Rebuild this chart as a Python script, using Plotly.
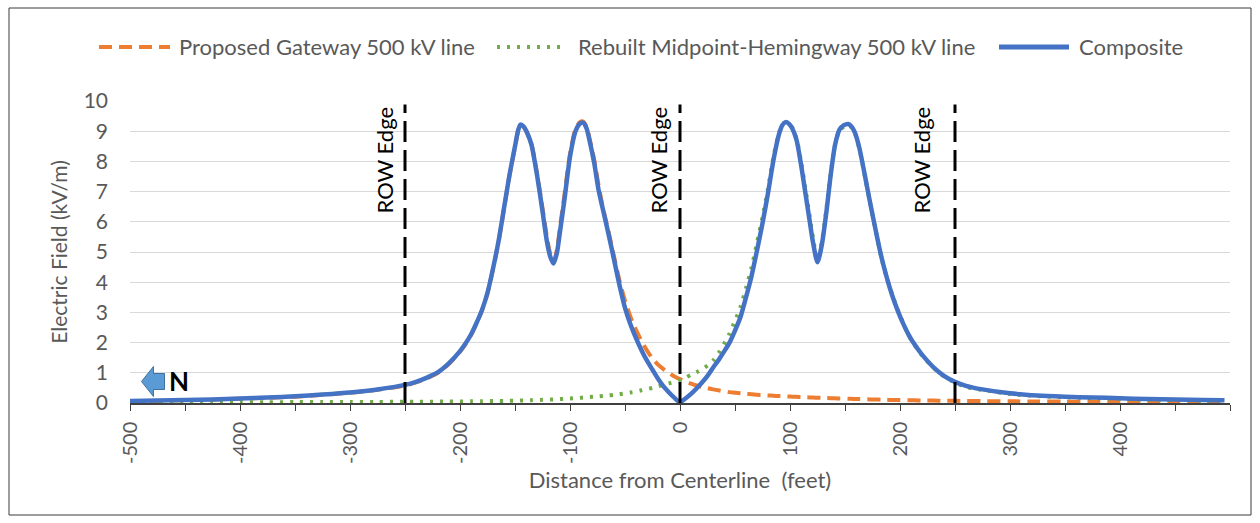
import plotly.graph_objects as go

# ---------------- data ----------------
distance_ft = [
    -500, -475, -450, -425, -400, -375, -350, -325, -300, -275, -250, -240, -230, -220, -210,
    -200, -195, -190, -185, -180, -175, -170, -165, -160, -155, -150, -147, -145, -142, -139,
    -135, -130, -125, -121, -118, -115, -112, -109, -105, -100, -95, -91, -88, -85, -82,
    -78, -74, -70, -65, -60, -55, -50, -45, -40, -35, -30, -25, -20, -15, -10, -5, 0,
    5, 10, 15, 20, 25, 30, 35, 40, 45, 50, 55, 60, 65, 70, 75, 80, 85, 90, 93, 96, 99,
    102, 106, 110, 114, 118, 121, 125, 129, 133, 137, 141, 145, 149, 153, 156, 159, 163,
    168, 173, 178, 183, 188, 193, 198, 203, 208, 213, 220, 230, 240, 250, 260, 275, 300,
    325, 350, 375, 400, 425, 450, 475, 495,
]

gateway_kvm = [
    0.06, 0.07, 0.09, 0.11, 0.14, 0.17, 0.21, 0.27, 0.34, 0.44, 0.58, 0.68, 0.82, 1.00, 1.30,
    1.70, 1.95, 2.25, 2.63, 3.06, 3.63, 4.43, 5.33, 6.43, 7.53, 8.48, 9.03, 9.20, 9.14, 8.95,
    8.57, 7.60, 6.45, 5.50, 4.95, 4.68, 5.05, 5.85, 6.90, 8.25, 9.07, 9.30, 9.32, 9.15, 8.72,
    8.05, 7.20, 6.45, 5.68, 4.85, 4.05, 3.38, 2.85, 2.42, 2.05, 1.74, 1.47, 1.27, 1.12, 0.99, 0.88, 0.79,
    0.71, 0.64, 0.58, 0.53, 0.49, 0.45, 0.42, 0.39, 0.36, 0.34, 0.32, 0.30, 0.29, 0.27, 0.26, 0.25, 0.24, 0.23, 0.225, 0.22, 0.215,
    0.21, 0.205, 0.20, 0.19, 0.185, 0.18, 0.175, 0.17, 0.165, 0.16, 0.155, 0.15, 0.145, 0.14, 0.137, 0.134, 0.13,
    0.125, 0.12, 0.115, 0.11, 0.105, 0.10, 0.097, 0.094, 0.091, 0.088, 0.085, 0.08, 0.076, 0.072, 0.068, 0.063, 0.056,
    0.05, 0.045, 0.04, 0.036, 0.033, 0.03, 0.027, 0.025,
]

midpoint_kvm = [
    0.02, 0.02, 0.02, 0.02, 0.025, 0.025, 0.03, 0.03, 0.035, 0.035, 0.04, 0.04, 0.045, 0.045, 0.05,
    0.05, 0.055, 0.055, 0.06, 0.06, 0.065, 0.065, 0.07, 0.07, 0.075, 0.08, 0.08, 0.085, 0.085, 0.09,
    0.095, 0.10, 0.105, 0.11, 0.115, 0.12, 0.125, 0.13, 0.14, 0.15, 0.16, 0.17, 0.18, 0.19, 0.20,
    0.21, 0.22, 0.23, 0.25, 0.27, 0.29, 0.32, 0.35, 0.38, 0.42, 0.46, 0.50, 0.55, 0.60, 0.65, 0.70, 0.76,
    0.84, 0.93, 1.02, 1.12, 1.24, 1.40, 1.65, 1.95, 2.30, 2.72, 3.18, 3.80, 4.48, 5.30, 6.15, 7.10, 8.15, 8.95, 9.22, 9.30, 9.26,
    9.12, 8.75, 8.00, 7.10, 6.15, 5.45, 4.75, 5.35, 6.40, 7.60, 8.55, 9.02, 9.15, 9.20, 9.12, 8.93, 8.43,
    7.53, 6.58, 5.68, 4.83, 4.13, 3.58, 3.08, 2.63, 2.23, 1.93, 1.58, 1.18, 0.88, 0.68, 0.53, 0.43, 0.30,
    0.23, 0.19, 0.16, 0.14, 0.11, 0.10, 0.08, 0.07,
]

composite_kvm = [
    0.07, 0.08, 0.10, 0.12, 0.15, 0.18, 0.22, 0.28, 0.35, 0.45, 0.60, 0.70, 0.84, 1.02, 1.32,
    1.72, 1.97, 2.27, 2.65, 3.08, 3.65, 4.45, 5.35, 6.45, 7.55, 8.50, 9.05, 9.22, 9.15, 8.95,
    8.55, 7.55, 6.35, 5.35, 4.85, 4.62, 4.95, 5.70, 6.75, 8.15, 9.00, 9.25, 9.28, 9.10, 8.65,
    7.95, 7.05, 6.40, 5.60, 4.75, 3.90, 3.15, 2.60, 2.15, 1.75, 1.40, 1.10, 0.80, 0.55, 0.35, 0.17, 0.03,
    0.15, 0.30, 0.48, 0.68, 0.90, 1.17, 1.42, 1.70, 2.00, 2.40, 2.85, 3.50, 4.20, 5.05, 5.95, 6.95, 8.05, 8.90, 9.20, 9.30, 9.25,
    9.10, 8.70, 7.90, 6.95, 6.00, 5.30, 4.66, 5.25, 6.30, 7.55, 8.55, 9.05, 9.20, 9.24, 9.15, 8.95, 8.45,
    7.55, 6.60, 5.70, 4.85, 4.15, 3.55, 3.05, 2.62, 2.25, 1.95, 1.60, 1.20, 0.90, 0.70, 0.57, 0.45, 0.32,
    0.25, 0.21, 0.18, 0.16, 0.13, 0.12, 0.10, 0.09,
]

series_names = [
    "Proposed Gateway 500 kV line",
    "Rebuilt Midpoint-Hemingway 500 kV line",
    "Composite",
]
row_edges_ft = [-250, 0, 250]
row_line_top_kvm = 9.88
row_label_text = "ROW Edge"

x_tick_labels = [-500, -400, -300, -200, -100, 0, 100, 200, 300, 400]
x_minor_ticks = [-450, -350, -250, -150, -50, 50, 150, 250, 350, 450, 500]
y_tick_labels = [0, 1, 2, 3, 4, 5, 6, 7, 8, 9, 10]

assert len(distance_ft) == len(gateway_kvm) == len(midpoint_kvm) == len(composite_kvm)

# ---------------- style ----------------
ORANGE = "#ED7D31"
GREEN = "#70AD47"
BLUE = "#4472C4"
TEXT = "#595959"
FONT = "Lato"

W, H = 1260, 523
L, R, T, B = 130, 30, 101, 120
PW, PH = W - L - R, H - T - B


def px(x):
    return (x - L) / PW


def py(y):
    return (H - B - y) / PH


fig = go.Figure()

SMOOTH = 0.7
fig.add_trace(go.Scatter(x=distance_ft, y=gateway_kvm, mode="lines", name=series_names[0],
                         line=dict(color=ORANGE, width=4, dash="13px,7px", shape="spline", smoothing=SMOOTH)))
fig.add_trace(go.Scatter(x=distance_ft, y=midpoint_kvm, mode="lines", name=series_names[1],
                         line=dict(color=GREEN, width=4, dash="3px,7px", shape="spline", smoothing=SMOOTH)))
fig.add_trace(go.Scatter(x=distance_ft, y=composite_kvm, mode="lines", name=series_names[2],
                         line=dict(color=BLUE, width=4.5, shape="spline", smoothing=SMOOTH)))

for edge in row_edges_ft:
    fig.add_trace(go.Scatter(x=[edge, edge], y=[0, row_line_top_kvm], mode="lines",
                             showlegend=False, hoverinfo="skip",
                             line=dict(color="black", width=3, dash="21px,8px")))

shapes = []
annotations = []

# chart border
shapes.append(dict(type="rect", xref="paper", yref="paper",
                   x0=px(9), x1=px(1251), y0=py(515), y1=py(8),
                   line=dict(color="#3a3a3a", width=1), fillcolor="rgba(0,0,0,0)", layer="above"))

# legend (manual, Excel-style)
legend_items = [
    (99, 170, 177, ORANGE, 4, "13px,7px"),
    (497, 565, 576, GREEN, 4, "3px,7px"),
    (999, 1069, 1077, BLUE, 5, "solid"),
]
for (sx0, sx1, tx, col, lw, dash), name in zip(legend_items, series_names):
    shapes.append(dict(type="line", xref="paper", yref="paper",
                       x0=px(sx0), x1=px(sx1), y0=py(47), y1=py(47),
                       line=dict(color=col, width=lw, dash=dash)))
    annotations.append(dict(xref="paper", yref="paper", x=px(tx), y=py(47),
                            xanchor="left", yanchor="middle", showarrow=False,
                            text=name, font=dict(family=FONT, size=22, color=TEXT)))

# ROW Edge labels
for edge, shift in zip(row_edges_ft, [-21, -22, -34]):
    annotations.append(dict(xref="x", yref="paper", x=edge, xshift=shift, y=py(105),
                            xanchor="center", yanchor="top", showarrow=False,
                            textangle=-90, text=row_label_text,
                            font=dict(family=FONT, size=22, color="black")))

# North arrow
pts = [(141.5, 381.5), (153.5, 366.5), (153.5, 373.5), (164.5, 373.5),
       (164.5, 389.5), (153.5, 389.5), (153.5, 396.5)]
path = "M " + " L ".join(f"{px(a):.5f},{py(b):.5f}" for a, b in pts) + " Z"
shapes.append(dict(type="path", xref="paper", yref="paper", path=path,
                   fillcolor="#5B9BD5", line=dict(color="#41719C", width=1), layer="above"))
annotations.append(dict(xref="paper", yref="paper", x=px(179), y=py(381),
                        xanchor="center", yanchor="middle", showarrow=False,
                        text="<b>N</b>", font=dict(family=FONT, size=26, color="black")))

fig.update_layout(
    width=W, height=H, autosize=False,
    margin=dict(l=L, r=R, t=T, b=B, pad=0),
    paper_bgcolor="white", plot_bgcolor="white",
    showlegend=False,
    font=dict(family=FONT, size=21, color=TEXT),
    shapes=shapes, annotations=annotations,
    xaxis=dict(
        range=[-500, 500], tickmode="array", tickvals=x_tick_labels,
        ticktext=[str(v) for v in x_tick_labels], tickangle=-90,
        ticks="outside", ticklen=6, tickwidth=1, tickcolor="#404040",
        showline=True, linecolor="#404040", linewidth=1.5,
        showgrid=False, zeroline=False, layer="below traces",
        ticklabelstandoff=3,
        tickfont=dict(family=FONT, size=20, color=TEXT),
        minor=dict(tickmode="array", tickvals=x_minor_ticks, ticks="outside",
                   ticklen=6, tickwidth=1, tickcolor="#404040", showgrid=False),
        title=dict(text="Distance from Centerline  (feet)", standoff=10,
                   font=dict(family=FONT, size=22, color=TEXT)),
    ),
    yaxis=dict(
        range=[0, 10], tickmode="array", tickvals=y_tick_labels,
        ticks="", showline=False, zeroline=False,
        showgrid=True, gridcolor="#D9D9D9", gridwidth=1,
        ticklabelstandoff=21,
        tickfont=dict(family=FONT, size=21, color=TEXT),
        title=dict(text="Electric Field (kV/m)", standoff=10,
                   font=dict(family=FONT, size=21, color=TEXT)),
    ),
)

fig.write_html("out.html")
